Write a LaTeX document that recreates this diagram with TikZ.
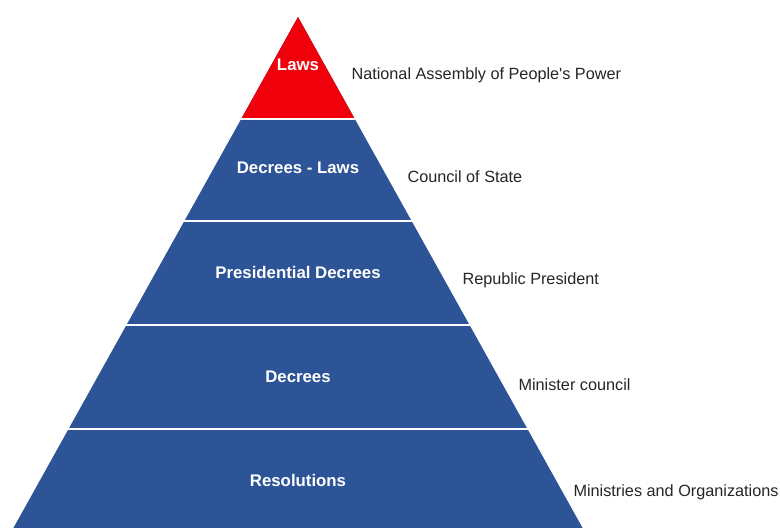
\documentclass[tikz,border=0pt]{standalone}
\usepackage{fontspec}
\setmainfont{Liberation Sans}[Ligatures=TeXOff]
\definecolor{pblue}{RGB}{44,84,150}
\definecolor{pred}{RGB}{240,0,10}
\begin{document}
\begin{tikzpicture}[x=1pt,y=-1pt,
  band/.style={font=\fontsize{16.8}{20}\selectfont\bfseries, text=white},
  who/.style={font=\fontsize{16.25}{19}\selectfont, text=black!85, anchor=west},
  sep/.style={draw=white, line width=2.5pt}]
\useasboundingbox (0,0) rectangle (780,528);
\fill[white] (0,0) rectangle (780,528);
% pyramid body
\fill[pblue] (298,17) -- (13.4,528) -- (582.6,528) -- cycle;
\fill[pred] (298,17) -- (241.2,119) -- (354.8,119) -- cycle;
% separators
\draw[sep] (240.6,119) -- (355.4,119);
\draw[sep] (183.0,221) -- (413.0,221);
\draw[sep] (125.1,325) -- (470.9,325);
\draw[sep] (67.2,429) -- (528.8,429);
% labels in bands
\node[band] (l1) at (298,65) {Laws};
\node[band] (l2) at (298,168) {Decrees - Laws};
\node[band] (l3) at (298,272) {Presidential Decrees};
\node[band] (l4) at (298,377) {Decrees};
\node[band] (l5) at (298,480) {Resolutions};
% side labels
\node[who] (w1) at (348,75) {National Assembly of People's Power};
\node[who] (w2) at (404,177) {Council of State};
\node[who] (w3) at (459,280) {Republic President};
\node[who] (w4) at (515,385) {Minister council};
\node[who] (w5) at (570,492) {Ministries and Organizations};
\end{tikzpicture}
\end{document}
